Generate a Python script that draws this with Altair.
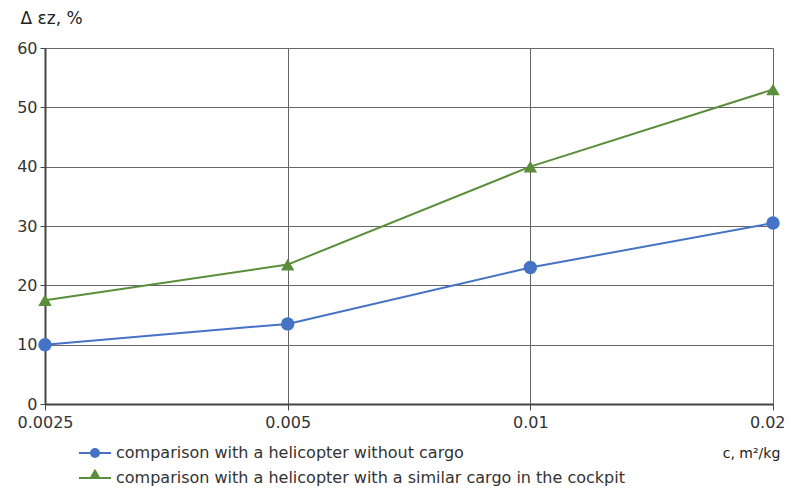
import altair as alt
import pandas as pd

x_labels = ["0.0025", "0.005", "0.01", "0.02"]
series_names = [
    "comparison with a helicopter without cargo",
    "comparison with a helicopter with a similar cargo in the cockpit",
]
blue_vals = [10, 13.5, 23, 30.5]
green_vals = [17.5, 23.5, 40, 53]
colors = ["#4472C4", "#5A8E3A"]
shapes = ["circle", "triangle-up"]

rows = []
for name, vals in zip(series_names, [blue_vals, green_vals]):
    for xl, v in zip(x_labels, vals):
        rows.append({"c": xl, "dez": v, "series": name})
df = pd.DataFrame(rows)

FONT = "DejaVu Sans"

x_enc = alt.X(
    "c:O",
    sort=x_labels,
    scale=alt.Scale(type="point", padding=0),
    axis=alt.Axis(
        title="c, m\u00b2/kg",
        titleFontSize=14,
        titleFontWeight="normal",
        titleFont=FONT,
        titleColor="#222",
        titleAnchor="start",
        titleAlign="center",
        titleX=706,
        titleY=42,
        labelAngle=0,
        labelFontSize=16,
        labelFont=FONT,
        labelColor="#333",
        labelPadding=4,
        labelAlign=alt.condition("datum.label == '0.02'", alt.value("right"), alt.value("center")),
        labelOffset=alt.condition("datum.label == '0.02'", alt.value(12), alt.value(0)),
        tickSize=6,
        tickColor="#444",
        domainColor="#444",
        domainWidth=2,
        gridColor="#666",
        gridWidth=1,
        grid=True,
    ),
)
y_enc = alt.Y(
    "dez:Q",
    scale=alt.Scale(domain=[0, 60], nice=False),
    axis=alt.Axis(
        values=[0, 10, 20, 30, 40, 50, 60],
        title="\u0394 \u03b5z, %",
        titleAngle=0,
        titleAlign="left",
        titleBaseline="middle",
        titleX=-25,
        titleY=-30,
        titleFontSize=17,
        titleFontWeight="normal",
        titleFont=FONT,
        titleColor="#222",
        labelFontSize=16,
        labelFont=FONT,
        labelColor="#333",
        labelPadding=3,
        tickSize=5,
        tickColor="#444",
        domainColor="#444",
        domainWidth=2,
        gridColor="#666",
        gridWidth=1,
    ),
)

line = alt.Chart(df).mark_line(strokeWidth=2).encode(
    x=x_enc,
    y=y_enc,
    color=alt.Color(
        "series:N",
        sort=series_names,
        scale=alt.Scale(domain=series_names, range=colors),
        legend=alt.Legend(
            title=None,
            orient="none",
            legendX=33,
            legendY=388,
            symbolType="stroke",
            symbolSize=1024,
            symbolStrokeWidth=2,
            labelFontSize=16,
            labelFont=FONT,
            labelColor="#333",
            labelOffset=4,
            labelLimit=700,
            rowPadding=-12,
        ),
    ),
)

pt_legend = alt.Legend(
    title=None,
    orient="none",
    legendX=42,
    legendY=397,
    symbolSize=100,
    symbolOpacity=1,
    labelFontSize=16,
    labelFont=FONT,
    labelColor="transparent",
    labelLimit=700,
    rowPadding=4,
)

points = alt.Chart(df).mark_point(filled=True, size=180, opacity=1).encode(
    x=x_enc,
    y=y_enc,
    color=alt.Color(
        "series:N",
        sort=series_names,
        scale=alt.Scale(domain=series_names, range=colors),
        legend=pt_legend,
    ),
    shape=alt.Shape(
        "series:N",
        sort=series_names,
        scale=alt.Scale(domain=series_names, range=shapes),
        legend=pt_legend,
    ),
)

chart = (
    alt.layer(line, points)
    .resolve_scale(color="independent", shape="independent")
    .properties(
        width=728,
        height=356,
        autosize=alt.AutoSizeParams(type="none"),
        padding={"left": 37, "top": 40, "right": 12, "bottom": 82},
        background="white",
    )
    .configure_view(stroke=None)
)

chart.save("out.html", embed_options={"renderer": "svg", "actions": False})
